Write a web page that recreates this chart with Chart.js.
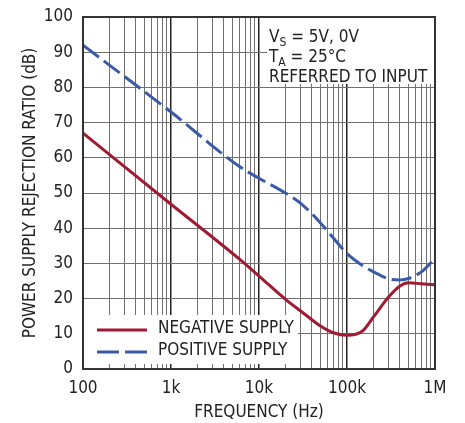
<!DOCTYPE html>
<html>
<head>
<meta charset="utf-8">
<script src="https://cdn.jsdelivr.net/npm/chart.js@4"></script>
<style>
  html, body { margin: 0; padding: 0; background: #fff; }
  #wrap { width: 465px; height: 423px; }
</style>
</head>
<body>
<div id="wrap"><canvas id="psrrChart" width="465" height="423"></canvas></div>
<script>
var freqs = [100, 1000, 6000, 10000, 20000, 30000, 50000, 70000, 100000, 150000, 200000, 300000, 400000, 500000, 700000, 1000000];
var negValues = [67, 46.8, 31.2, 26.4, 19.8, 16.4, 12.2, 10.3, 9.6, 10.8, 14.8, 20.6, 23.6, 24.5, 24.2, 23.9];
var posValues = [92, 73, 57.5, 54.2, 50, 47, 41.5, 37.2, 32.8, 29.4, 27.6, 25.6, 25.3, 25.7, 27.6, 31.4];
var decades = [100, 1000, 10000, 100000, 1000000];
var freqLabels = ["100", "1k", "10k", "100k", "1M"];
var dbTicks = [0, 10, 20, 30, 40, 50, 60, 70, 80, 90, 100];

var FONT = "'Liberation Sans Narrow', 'DejaVu Sans Condensed', 'Liberation Sans', sans-serif";
var RED = "#9e1b32";
var BLUE = "#3a5aa8";

// minor grid: 1..9 x each decade
var gridValues = [];
decades.forEach(function (d) {
	for (var m = 1; m <= 9; m++) {
		if (d * m <= 1000000) gridValues.push(d * m);
	}
});

function points(vals) {
	return freqs.map(function (f, i) { return { x: f, y: vals[i] }; });
}

var boxes = {
	id: "boxes",
	beforeDatasetsDraw: function (chart) {
		var a = chart.chartArea, ctx = chart.ctx;
		ctx.save();
		ctx.fillStyle = "#fff";
		// legend box bottom-left
		ctx.fillRect(a.left, a.bottom - 54, 215, 49);
		// conditions box top-right
		ctx.fillRect(a.right - 168, a.top, 168, 67);
		ctx.restore();
	},
	afterDatasetsDraw: function (chart) {
		var a = chart.chartArea, ctx = chart.ctx;
		ctx.save();
		// legend
		ctx.lineWidth = 3;
		ctx.strokeStyle = RED;
		ctx.beginPath();
		ctx.moveTo(a.left + 14, a.bottom - 39);
		ctx.lineTo(a.left + 64, a.bottom - 39);
		ctx.stroke();
		ctx.strokeStyle = BLUE;
		ctx.setLineDash([22, 6]);
		ctx.beginPath();
		ctx.moveTo(a.left + 14, a.bottom - 17);
		ctx.lineTo(a.left + 64, a.bottom - 17);
		ctx.stroke();
		ctx.setLineDash([]);
		ctx.fillStyle = "#222";
		ctx.font = "17px " + FONT;
		ctx.textBaseline = "middle";
		ctx.fillText("NEGATIVE SUPPLY", a.left + 75, a.bottom - 40);
		ctx.fillText("POSITIVE SUPPLY", a.left + 75, a.bottom - 18);

		// conditions text
		var x = a.right - 166;
		ctx.textBaseline = "alphabetic";
		ctx.font = "17px " + FONT;
		ctx.fillText("V", x, a.top + 25);
		var w = ctx.measureText("V").width;
		ctx.font = "12px " + FONT;
		ctx.fillText("S", x + w, a.top + 29);
		var w2 = ctx.measureText("S").width;
		ctx.font = "17px " + FONT;
		ctx.fillText(" = 5V, 0V", x + w + w2, a.top + 25);

		ctx.fillText("T", x, a.top + 45);
		w = ctx.measureText("T").width;
		ctx.font = "12px " + FONT;
		ctx.fillText("A", x + w, a.top + 49);
		w2 = ctx.measureText("A").width;
		ctx.font = "17px " + FONT;
		ctx.fillText(" = 25°C", x + w + w2, a.top + 45);

		ctx.fillText("REFERRED TO INPUT", x, a.top + 65);

		// frame
		ctx.lineWidth = 2;
		ctx.strokeStyle = "#333";
		ctx.strokeRect(a.left, a.top, a.right - a.left, a.bottom - a.top);
		ctx.restore();
	}
};

var psrrChart = new Chart(document.getElementById("psrrChart"), {
	type: "line",
	data: {
		datasets: [
			{
				label: "NEGATIVE SUPPLY",
				data: points(negValues),
				borderColor: RED,
				borderWidth: 3,
				pointRadius: 0,
				cubicInterpolationMode: "monotone",
				fill: false
			},
			{
				label: "POSITIVE SUPPLY",
				data: points(posValues),
				borderColor: BLUE,
				borderWidth: 3,
				borderDash: [20, 6],
				pointRadius: 0,
				cubicInterpolationMode: "monotone",
				fill: false
			}
		]
	},
	options: {
		responsive: false,
		animation: false,
		layout: { padding: { top: 17, right: 30, left: 0, bottom: 0 } },
		plugins: {
			legend: { display: false },
			tooltip: { enabled: false }
		},
		scales: {
			x: {
				type: "logarithmic",
				min: 100,
				max: 1000000,
				afterBuildTicks: function (scale) {
					scale.ticks = gridValues.map(function (v) { return { value: v }; });
				},
				afterFit: function (scale) { scale.height = 54; },
				grid: {
					drawTicks: false,
					color: function (c) { return decades.indexOf(c.tick && c.tick.value) >= 0 ? "#222" : "#707070"; },
					lineWidth: function (c) { return decades.indexOf(c.tick && c.tick.value) >= 0 ? 1.5 : 1; }
				},
				border: { display: false },
				ticks: {
					autoSkip: false,
					maxRotation: 0,
					padding: 9,
					color: "#222",
					font: { family: FONT, size: 17 },
					callback: function (value) {
						var i = decades.indexOf(value);
						return i >= 0 ? freqLabels[i] : "";
					}
				},
				title: {
					display: true,
					text: "FREQUENCY (Hz)",
					color: "#222",
					font: { family: FONT, size: 17 },
					padding: { top: 0, bottom: 0 }
				}
			},
			y: {
				min: 0,
				max: 100,
				afterBuildTicks: function (scale) {
					scale.ticks = dbTicks.map(function (v) { return { value: v }; });
				},
				afterFit: function (scale) {
					scale.width = 83;
					scale.paddingTop = 0;
					scale.paddingBottom = 0;
				},
				grid: { drawTicks: false, color: "#707070", lineWidth: 1 },
				border: { display: false },
				ticks: {
					padding: 10,
					color: "#222",
					font: { family: FONT, size: 17 }
				},
				title: {
					display: true,
					text: "POWER SUPPLY REJECTION RATIO (dB)",
					color: "#222",
					font: { family: FONT, size: 17 },
					padding: { top: 20, bottom: 0 }
				}
			}
		}
	},
	plugins: [boxes]
});
</script>
</body>
</html>
